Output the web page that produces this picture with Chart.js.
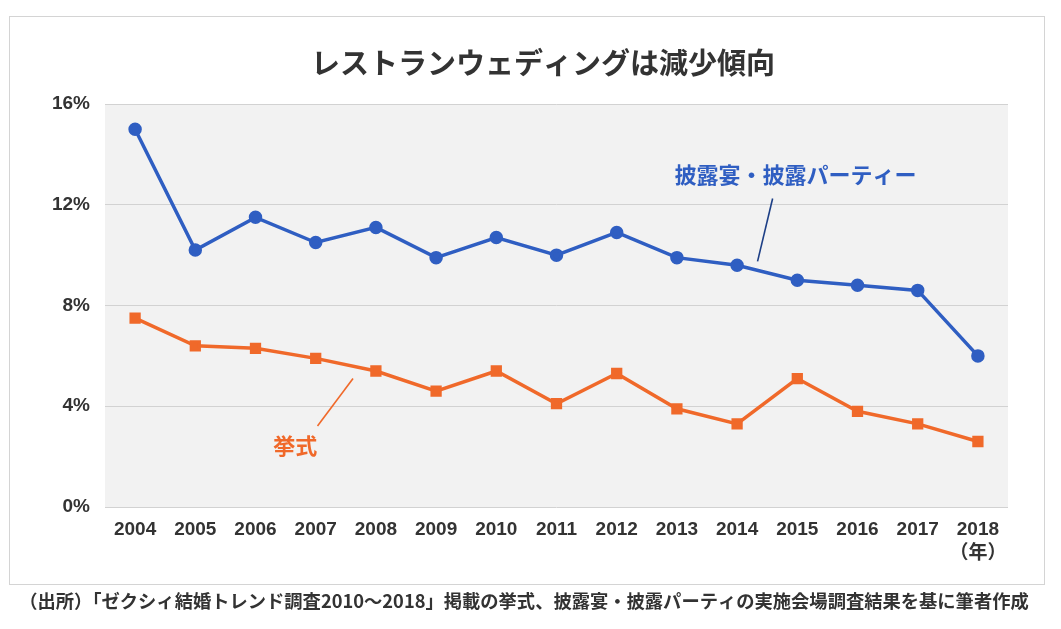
<!DOCTYPE html>
<html lang="ja">
<head>
    <meta charset="utf-8">
    <script src="https://cdn.jsdelivr.net/npm/chart.js@4/dist/chart.umd.min.js"></script>
    <style>
        html, body { margin: 0; padding: 0; background: #fff; }
        #wrap { width: 1061px; height: 629px; position: relative; }
    </style>
</head>
<body>
<div id="wrap">
    <canvas id="chart" width="1061" height="629"></canvas>
</div>

<script type="text/javascript">
    // データ
    var years = ['2004', '2005', '2006', '2007', '2008', '2009', '2010', '2011',
                 '2012', '2013', '2014', '2015', '2016', '2017', ['2018', '（年）']];
    var hiroen = [15.0, 10.2, 11.5, 10.5, 11.1, 9.9, 10.7, 10.0, 10.9, 9.9, 9.6, 9.0, 8.8, 8.6, 6.0];
    var kyoshiki = [7.5, 6.4, 6.3, 5.9, 5.4, 4.6, 5.4, 4.1, 5.3, 3.9, 3.3, 5.1, 3.8, 3.3, 2.6];
    var yTicks = [0, 4, 8, 12, 16];

    var titleText = 'レストランウェディングは減少傾向';
    var sourceText = '（出所）「ゼクシィ結婚トレンド調査2010～2018」掲載の挙式、披露宴・披露パーティの実施会場調査結果を基に筆者作成';

    var BLUE = '#2f5ec2';
    var ORANGE = '#f0692a';
    var JP = '"Noto Sans CJK JP", "Liberation Sans", sans-serif';

    // 注釈 (x: カテゴリ位置, y: 値)
    var notes = [
        {text: '披露宴・披露パーティー', color: BLUE, lineColor: '#1d3f86', x: 10.97, y: 13.2, from: [10.59, 12.25], to: [10.34, 9.75]},
        {text: '挙式', color: ORANGE, lineColor: ORANGE, x: 2.66, y: 2.45, from: [3.62, 5.1], to: [3.03, 3.22]}
    ];

    var decoPlugin = {
        id: 'deco',
        beforeDraw: function (chart) {
            var ctx = chart.ctx, a = chart.chartArea;
            ctx.save();
            // 外枠
            ctx.strokeStyle = '#d4d4d4';
            ctx.lineWidth = 1;
            ctx.strokeRect(9.5, 16.5, 1035, 568);
            // プロット背景
            ctx.fillStyle = '#f2f2f2';
            ctx.fillRect(a.left, a.top, a.right - a.left, a.bottom - a.top);
            // タイトル
            ctx.fillStyle = '#333';
            ctx.font = 'bold 29px ' + JP;
            ctx.textAlign = 'center';
            ctx.textBaseline = 'middle';
            ctx.fillText(titleText, 543, 63);
            // 出所
            ctx.font = 'bold 18.3px ' + JP;
            ctx.fillStyle = '#333';
            ctx.fillText(sourceText, 524, 601);
            ctx.restore();
        },
        afterDatasetsDraw: function (chart) {
            var ctx = chart.ctx, xs = chart.scales.x, ys = chart.scales.y;
            ctx.save();
            notes.forEach(function (n) {
                ctx.strokeStyle = n.lineColor;
                ctx.lineWidth = 1.6;
                ctx.beginPath();
                ctx.moveTo(xs.getPixelForValue(n.from[0]), ys.getPixelForValue(n.from[1]));
                ctx.lineTo(xs.getPixelForValue(n.to[0]), ys.getPixelForValue(n.to[1]));
                ctx.stroke();
                ctx.fillStyle = n.color;
                ctx.font = 'bold 22px ' + JP;
                ctx.textAlign = 'center';
                ctx.textBaseline = 'middle';
                ctx.fillText(n.text, xs.getPixelForValue(n.x), ys.getPixelForValue(n.y));
            });
            ctx.restore();
        }
    };

    new Chart(document.getElementById('chart'), {
        type: 'line',
        data: {
            labels: years,
            datasets: [{
                label: '披露宴・披露パーティー',
                data: hiroen,
                borderColor: BLUE,
                backgroundColor: BLUE,
                borderWidth: 3.5,
                pointStyle: 'circle',
                pointRadius: 5,
                pointBackgroundColor: BLUE,
                pointBorderColor: BLUE,
                fill: false,
                tension: 0
            }, {
                label: '挙式',
                data: kyoshiki,
                borderColor: ORANGE,
                backgroundColor: ORANGE,
                borderWidth: 3.5,
                pointStyle: 'rect',
                pointRadius: 5.5,
                pointBackgroundColor: ORANGE,
                pointBorderColor: ORANGE,
                fill: false,
                tension: 0
            }]
        },
        options: {
            responsive: false,
            animation: false,
            layout: {
                padding: {left: 0, right: 53, top: 104, bottom: 0}
            },
            plugins: {
                legend: {display: false},
                title: {display: false},
                tooltip: {enabled: false}
            },
            scales: {
                x: {
                    offset: true,
                    grid: {display: false, drawTicks: false},
                    border: {display: false},
                    ticks: {
                        color: '#333',
                        padding: 11,
                        maxRotation: 0,
                        autoSkip: false,
                        font: {family: '"Liberation Sans", ' + JP, size: 19, weight: 'bold', lineHeight: 1.25}
                    },
                    afterFit: function (scale) { scale.height = 122; }
                },
                y: {
                    min: 0,
                    max: 16,
                    afterBuildTicks: function (scale) {
                        scale.ticks = yTicks.map(function (v) { return {value: v}; });
                    },
                    grid: {color: '#d2d2d2', lineWidth: 1, drawTicks: false},
                    border: {display: false},
                    ticks: {
                        color: '#333',
                        padding: 15,
                        font: {family: '"Liberation Sans", sans-serif', size: 19, weight: 'bold'},
                        callback: function (v) { return v + '%'; }
                    },
                    afterFit: function (scale) { scale.width = 105; }
                }
            }
        },
        plugins: [decoPlugin]
    });
</script>
</body>
</html>
